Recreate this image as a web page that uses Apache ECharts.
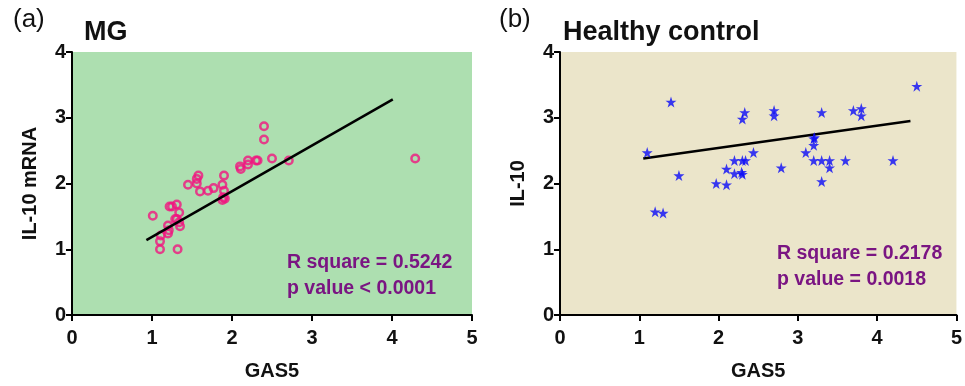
<!DOCTYPE html>
<html><head><meta charset="utf-8">
<script src="https://cdn.jsdelivr.net/npm/echarts@6/dist/echarts.min.js"></script>
<style>html,body{margin:0;padding:0;background:#fff}#c{width:965px;height:386px}</style>
</head><body><div id="c"></div>
<script>
// Panel (a) MG: GAS5 vs IL-10 mRNA
const mgGAS5 = [2.40,2.40,2.50,2.71,2.32,2.30,2.20,2.20,2.10,2.11,1.90,1.88,1.90,1.89,1.91,1.88,1.58,1.56,1.56,1.45,1.60,1.70,1.77,1.01,1.22,1.25,1.31,1.34,1.31,1.34,1.35,1.29,1.20,1.21,1.20,1.11,1.10,1.10,1.32,4.29];
const mgIL10 = [2.87,2.67,2.38,2.35,2.35,2.35,2.35,2.29,2.26,2.22,2.12,1.98,1.89,1.79,1.77,1.75,2.12,2.07,2.00,1.98,1.88,1.89,1.93,1.51,1.65,1.65,1.68,1.56,1.46,1.41,1.35,1.46,1.36,1.29,1.24,1.21,1.12,1.00,1.00,2.38];
const mgFitX = [0.93, 4.01];
const mgFitY = [1.14, 3.28];
// Panel (b) Healthy control: GAS5 vs IL-10
const hcGAS5 = [1.40,1.10,2.33,2.30,2.70,2.70,2.44,2.20,2.30,2.34,2.10,2.20,2.29,2.30,1.50,1.97,2.10,2.79,3.10,3.20,3.20,3.20,1.20,1.30,4.50,3.30,3.70,3.80,3.80,3.21,3.30,3.40,3.40,3.60,4.20,3.30];
const hcIL10 = [3.24,2.47,3.08,2.98,3.11,3.03,2.47,2.35,2.35,2.35,2.22,2.15,2.17,2.14,2.12,2.00,1.98,2.24,2.47,2.68,2.58,2.35,1.57,1.55,3.48,3.08,3.11,3.14,3.03,2.70,2.35,2.35,2.24,2.35,2.35,2.03];
const hcFitX = [1.05, 4.42];
const hcFitY = [2.38, 2.95];
const xTicks = [0,1,2,3,4,5];
const yTicks = [0,1,2,3,4];

const zip = (a,b) => a.map((v,i)=>[v,b[i]]);
const FONT = 'Liberation Sans, Arial, sans-serif';
function xAxis(gi){return {gridIndex:gi,type:'value',min:xTicks[0],max:xTicks[xTicks.length-1],interval:1,
  name:'GAS5',nameLocation:'middle',nameGap:46,nameTextStyle:{fontFamily:FONT,fontWeight:'bold',fontSize:20,color:'#111'},
  axisLine:{show:true,onZero:false,lineStyle:{color:'#000',width:2}},axisTick:{show:true,length:6,lineStyle:{color:'#000',width:2}},
  axisLabel:{fontFamily:FONT,fontWeight:'bold',fontSize:20,color:'#111',margin:13},splitLine:{show:false}};}
function yAxis(gi,name){return {gridIndex:gi,type:'value',min:yTicks[0],max:yTicks[yTicks.length-1],interval:1,
  name:name,nameLocation:'middle',nameGap:32,nameTextStyle:{fontFamily:FONT,fontWeight:'bold',fontSize:20,color:'#111'},
  axisLine:{show:true,onZero:false,lineStyle:{color:'#000',width:2}},axisTick:{show:true,length:6,lineStyle:{color:'#000',width:2}},
  axisLabel:{fontFamily:FONT,fontWeight:'bold',fontSize:20,color:'#111',margin:6},splitLine:{show:false}};}
const chart = echarts.init(document.getElementById('c'),null,{renderer:'canvas'});
chart.setOption({
  animation:false,
  grid:[
    {left:72,right:493,top:52,bottom:69,show:true,backgroundColor:'#addfb0',borderWidth:0},
    {left:560,right:5,top:52,bottom:69,show:true,backgroundColor:'#ebe5ca',borderWidth:0}
  ],
  xAxis:[xAxis(0),xAxis(1)],
  yAxis:[yAxis(0,'IL-10 mRNA'),yAxis(1,'IL-10')],
  title:[
    {text:'(a)',left:8,top:2,textStyle:{fontFamily:FONT,fontWeight:'normal',fontSize:26,color:'#111'}},
    {text:'MG',left:79,top:14,textStyle:{fontFamily:FONT,fontWeight:'bold',fontSize:27,color:'#111'}},
    {text:'(b)',left:494,top:2,textStyle:{fontFamily:FONT,fontWeight:'normal',fontSize:26,color:'#111'}},
    {text:'Healthy control',left:558,top:14,textStyle:{fontFamily:FONT,fontWeight:'bold',fontSize:27,color:'#111'}}
  ],
  graphic:[
    {type:'text',left:287,top:250,style:{text:'R square = 0.5242\np value < 0.0001',fontFamily:FONT,fontWeight:'bold',fontSize:19.5,lineHeight:26,fill:'#7a1582'}},
    {type:'text',left:777,top:241,style:{text:'R square = 0.2178\np value = 0.0018',fontFamily:FONT,fontWeight:'bold',fontSize:19.5,lineHeight:26,fill:'#7a1582'}}
  ],
  series:[
    {type:'line',xAxisIndex:0,yAxisIndex:0,data:zip(mgFitX,mgFitY),symbol:'none',lineStyle:{color:'#000',width:2.5},z:3},
    {type:'scatter',xAxisIndex:0,yAxisIndex:0,data:zip(mgGAS5,mgIL10),symbol:'circle',symbolSize:7.5,
      itemStyle:{color:'rgba(0,0,0,0)',borderColor:'#f0157f',borderWidth:2.5},z:2},
    {type:'line',xAxisIndex:1,yAxisIndex:1,data:zip(hcFitX,hcFitY),symbol:'none',lineStyle:{color:'#000',width:2.5},z:3},
    {type:'scatter',xAxisIndex:1,yAxisIndex:1,data:zip(hcGAS5,hcIL10),
      symbol:'path://M50,0 L61.8,36.2 L100,36.2 L69.1,58.8 L80.9,95.1 L50,72.7 L19.1,95.1 L30.9,58.8 L0,36.2 L38.2,36.2 Z',
      symbolSize:11,itemStyle:{color:'#0a0af8'},z:4}
  ]
});
</script></body></html>
